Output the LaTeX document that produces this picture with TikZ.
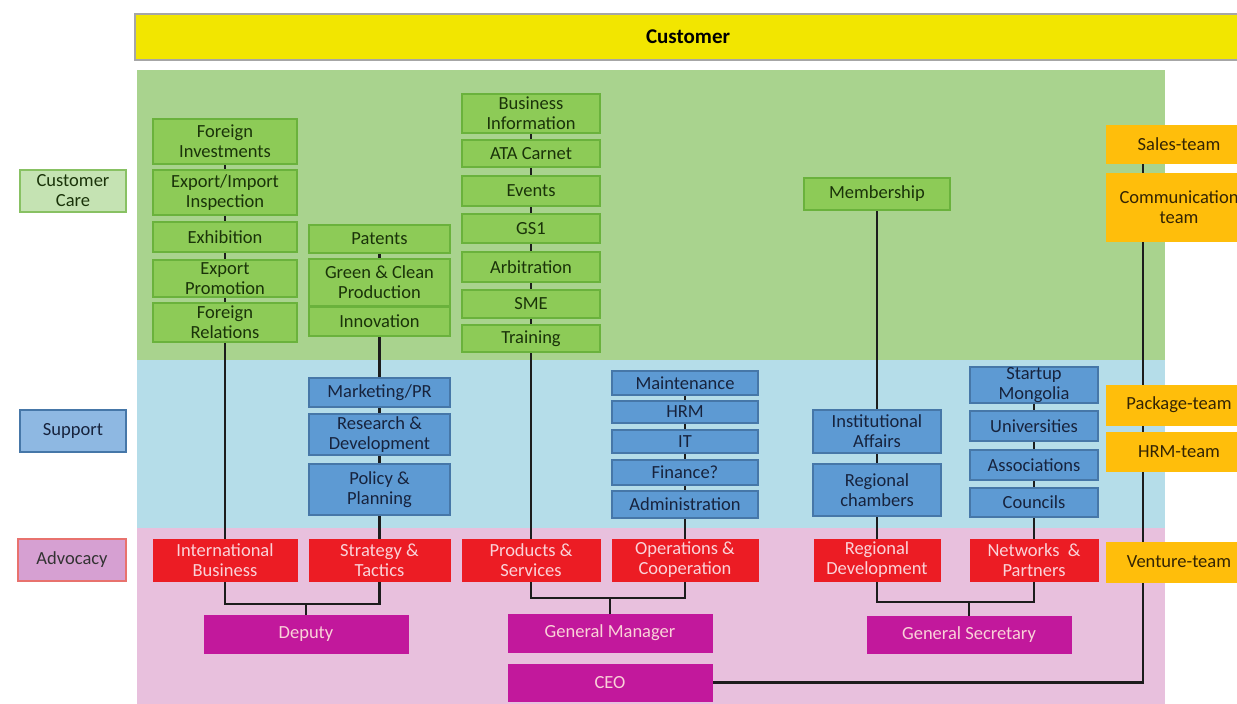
\documentclass[tikz,border=0pt]{standalone}
\usepackage{fontspec}
\setmainfont{Carlito}
\usetikzlibrary{calc}
\pgfdeclarelayer{bg}
\pgfdeclarelayer{ln}
\pgfsetlayers{bg,ln,main}
\definecolor{custyellow}{HTML}{F2E600}
\definecolor{bandgreen}{HTML}{A9D38E}
\definecolor{bandblue}{HTML}{B5DDE9}
\definecolor{bandpink}{HTML}{E8C0DD}
\definecolor{boxgreen}{HTML}{8DCB57}
\definecolor{linegreen}{HTML}{6AB23C}
\definecolor{txtgreen}{HTML}{1A3309}
\definecolor{boxblue}{HTML}{5D9AD3}
\definecolor{lineblue}{HTML}{4677A8}
\definecolor{txtblue}{HTML}{17233D}
\definecolor{boxred}{HTML}{EC1C24}
\definecolor{boxpurple}{HTML}{C2189C}
\definecolor{txtlight}{HTML}{FAD2D8}
\definecolor{boxorange}{HTML}{FFBE0B}
\definecolor{txtorange}{HTML}{332404}
\definecolor{lblgreen}{HTML}{C5E3B3}
\definecolor{lblblue}{HTML}{8EB8E2}
\definecolor{lblpink}{HTML}{D6A0D2}
\definecolor{lblpinkline}{HTML}{E8726E}
\definecolor{conncol}{HTML}{1C1C1C}
\tikzset{
  base/.style={inner sep=0pt, align=center, font=\fontsize{18.5}{20}\selectfont},
  gbox/.style={base, fill=boxgreen, draw=linegreen, line width=1.2pt, text=txtgreen},
  bbox/.style={base, fill=boxblue, draw=lineblue, line width=1.2pt, text=txtblue},
  rbox/.style={base, fill=boxred, draw=boxred, text=txtlight},
  pbox/.style={base, fill=boxpurple, draw=boxpurple, text=txtlight},
  obox/.style={base, fill=boxorange, draw=boxorange, text=txtorange},
  ybox/.style={base, fill=custyellow, draw=gray!70, line width=1.2pt, text=black, font=\fontsize{21}{24}\selectfont\bfseries},
  lgbox/.style={base, fill=lblgreen, draw=linegreen!80, line width=1.2pt, text=txtgreen},
  lbbox/.style={base, fill=lblblue, draw=lineblue, line width=1.2pt, text=txtblue},
  lpbox/.style={base, fill=lblpink, draw=lblpinkline, line width=1.2pt, text=black!80},
  conn/.style={draw=conncol, line width=2.6pt},
}
\newcommand\orgbx[7]{\node[#6, minimum width={(#4-#2)*1pt}, minimum height={(#5-#3)*1pt}] (#1) at ({(#2+#4)/2},{(#3+#5)/2}) {#7};}
\begin{document}
\begin{tikzpicture}[x=1pt,y=-1pt]
\useasboundingbox (0,0) rectangle (1237,704);
\clip (0,0) rectangle (1237,704);
\begin{pgfonlayer}{bg}
\fill[white] (0,0) rectangle (1237,704);
\fill[bandgreen] (137,70) rectangle (1165,360);
\fill[bandblue] (137,360) rectangle (1165,528);
\fill[bandpink] (137,528) rectangle (1165,704);
\end{pgfonlayer}
% top bar and labels
\orgbx{cust}{135}{14}{1241}{60}{ybox}{Customer}
\orgbx{lcc}{20}{170}{126}{212}{lgbox}{Customer\\Care}
\orgbx{lsu}{20}{410}{126}{452}{lbbox}{Support}
\orgbx{lad}{18}{539}{126}{581}{lpbox}{Advocacy}
% column 1
\orgbx{fi}{153}{119}{297}{164}{gbox}{Foreign\\Investments}
\orgbx{eii}{153}{170}{297}{215}{gbox}{Export/Import\\Inspection}
\orgbx{exh}{153}{222}{297}{252}{gbox}{Exhibition}
\orgbx{exp}{153}{260}{297}{297}{gbox}{Export\\Promotion}
\orgbx{fr}{153}{303}{297}{342}{gbox}{Foreign\\Relations}
% column 2
\orgbx{pat}{309}{225}{450}{253}{gbox}{Patents}
\orgbx{gcp}{309}{259}{450}{306}{gbox}{Green \& Clean\\Production}
\orgbx{inn}{309}{307}{450}{336}{gbox}{Innovation}
\orgbx{mkt}{309}{378}{450}{407}{bbox}{Marketing/PR}
\orgbx{rd}{309}{414}{450}{455}{bbox}{Research \&\\Development}
\orgbx{pp}{309}{464}{450}{515}{bbox}{Policy \&\\Planning}
% column 3
\orgbx{bi}{462}{94}{600}{133}{gbox}{Business\\Information}
\orgbx{ata}{462}{140}{600}{167}{gbox}{ATA Carnet}
\orgbx{ev}{462}{176}{600}{206}{gbox}{Events}
\orgbx{gsa}{462}{214}{600}{243}{gbox}{GS1}
\orgbx{arb}{462}{252}{600}{282}{gbox}{Arbitration}
\orgbx{sme}{462}{290}{600}{318}{gbox}{SME}
\orgbx{tr}{462}{325}{600}{352}{gbox}{Training}
% column 4
\orgbx{mai}{612}{371}{758}{395}{bbox}{Maintenance}
\orgbx{hrm}{612}{401}{758}{423}{bbox}{HRM}
\orgbx{it}{612}{430}{758}{453}{bbox}{IT}
\orgbx{fin}{612}{460}{758}{485}{bbox}{Finance?}
\orgbx{adm}{612}{491}{758}{518}{bbox}{Administration}
% column 5
\orgbx{mem}{804}{178}{950}{210}{gbox}{Membership}
\orgbx{ia}{813}{410}{941}{453}{bbox}{Institutional\\Affairs}
\orgbx{rc}{813}{464}{941}{516}{bbox}{Regional\\chambers}
% column 6
\orgbx{su}{970}{367}{1098}{403}{bbox}{Startup\\Mongolia}
\orgbx{uni}{970}{411}{1098}{441}{bbox}{Universities}
\orgbx{ass}{970}{450}{1098}{480}{bbox}{Associations}
\orgbx{cou}{970}{488}{1098}{517}{bbox}{Councils}
% orange teams
\orgbx{sales}{1106}{125}{1252}{163}{obox}{Sales-team}
\orgbx{comm}{1106}{173}{1252}{241}{obox}{Communication\\team}
\orgbx{pkg}{1106}{385}{1252}{425}{obox}{Package-team}
\orgbx{hrmt}{1106}{432}{1252}{471}{obox}{HRM-team}
\orgbx{ven}{1106}{542}{1252}{582}{obox}{Venture-team}
% advocacy row
\orgbx{ib}{153}{539}{297}{581}{rbox}{International\\Business}
\orgbx{st}{309}{539}{450}{581}{rbox}{Strategy \&\\Tactics}
\orgbx{ps}{462}{539}{600}{581}{rbox}{Products \&\\Services}
\orgbx{oc}{612}{539}{758}{581}{rbox}{Operations \&\\Cooperation}
\orgbx{rdv}{814}{539}{940}{581}{rbox}{Regional\\Development}
\orgbx{np}{970}{539}{1098}{581}{rbox}{Networks~~\&\\Partners}
% management
\orgbx{dep}{204}{615}{408}{653}{pbox}{Deputy}
\orgbx{gm}{508}{614}{712}{652}{pbox}{General Manager}
\orgbx{gs}{867}{616}{1071}{653}{pbox}{General Secretary}
\orgbx{ceo}{508}{664}{712}{701}{pbox}{CEO}
\coordinate (jd) at (306,604);
\coordinate (jg) at (610,598);
\coordinate (js) at (969,602);
\coordinate (ox) at (1143,0);
\begin{pgfonlayer}{ln}
\draw[conn] (fi.center) -- (ib.center);
\draw[conn] (pat.center) -- (st.center);
\draw[conn] (bi.center) -- (ps.center);
\draw[conn] (mai.center) -- (oc.center);
\draw[conn] (mem.center) -- (rdv.center);
\draw[conn] (su.center) -- (np.center);
\draw[conn] (ib.south) |- (jd) -| (st.south);
\draw[conn] (jd) -- (dep.north);
\draw[conn] (ps.south) |- (jg) -| (oc.south);
\draw[conn] (jg) -- (gm.north);
\draw[conn] (rdv.south) |- (js) -| (np.south);
\draw[conn] (js) -- (gs.north);
\draw[conn] (sales.south -| ox) -- (comm.north -| ox);
\draw[conn] (comm.south -| ox) |- (ceo.east);
\end{pgfonlayer}
\end{tikzpicture}
\end{document}
